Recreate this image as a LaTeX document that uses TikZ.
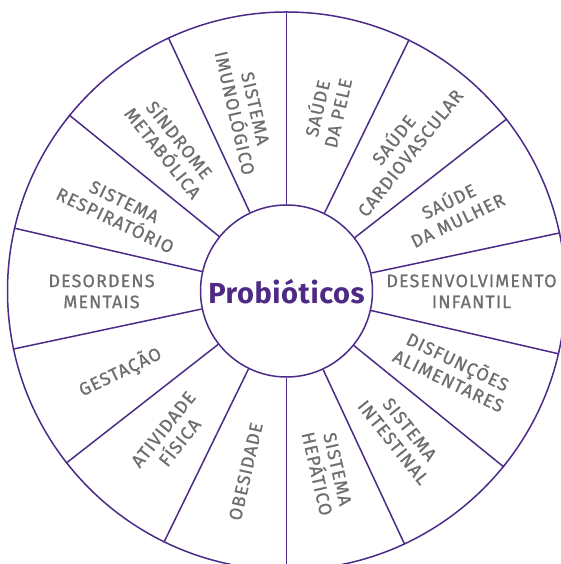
\documentclass[tikz,border=0pt]{standalone}
\usepackage{fontspec}
\setmainfont{Fira Sans}[LetterSpace=6,FakeBold=0.8]
\newfontfamily\corefont{Fira Sans}[LetterSpace=2]
\usetikzlibrary{calc}
\definecolor{wheelline}{HTML}{4B2A88}
\definecolor{labelgray}{HTML}{6E6E6E}
\definecolor{corepurple}{HTML}{4E2A84}
\newcommand\capline[1]{\raisebox{0pt}[13.3pt][0pt]{#1}}
\begin{document}
\begin{tikzpicture}[x=1pt,y=1pt,
  wheel/.style={circle, draw=wheelline, line width=1.5pt, inner sep=0pt, minimum size=#1},
  spoke/.style={draw=wheelline, line width=1.5pt},
  lbl/.style={text=labelgray, font=\fontsize{18}{21}\selectfont, align=center, inner sep=0pt, rotate=#1},
  title/.style={text=corepurple, font=\corefont\bfseries\fontsize{29}{32}\selectfont, inner sep=0pt, anchor=base}]
\useasboundingbox (0,0) rectangle (561,564);
\coordinate (C) at (286.5,273);
\node[wheel=558pt] (rim) at (C) {};
\node[wheel=172pt] (core) at (C) {};
\node[title] (probio) at ($(C)+(0,-13)$) {Probióticos};
\foreach \k in {0,...,13} {
  \pgfmathsetmacro\a{mod(90+\k*360/14,360)}
  \draw[spoke] (core.\a) -- (rim.\a);
}
\node[lbl=77.14] (pele) at ($(C)+(77.14:185)$) {\capline{SAÚDE}\\\capline{DA PELE}};
\node[lbl=51.43] (cardio) at ($(C)+(51.43:185)$) {\capline{SAÚDE}\\\capline{CARDIOVASCULAR}};
\node[lbl=25.71] (mulher) at ($(C)+(25.71:185)$) {\capline{SAÚDE}\\\capline{DA MULHER}};
\node[lbl=0] (infantil) at ($(C)+(0:185)$) {\capline{DESENVOLVIMENTO}\\\capline{INFANTIL}};
\node[lbl=-25.71] (alim) at ($(C)+(-25.71:185)$) {\capline{DISFUNÇÕES}\\\capline{ALIMENTARES}};
\node[lbl=-51.43] (intest) at ($(C)+(-51.43:185)$) {\capline{SISTEMA}\\\capline{INTESTINAL}};
\node[lbl=-77.14] (hepat) at ($(C)+(-77.14:185)$) {\capline{SISTEMA}\\\capline{HEPÁTICO}};
\node[lbl=77.14] (obes) at ($(C)+(-102.86:185)$) {\capline{OBESIDADE}};
\node[lbl=51.43] (ativ) at ($(C)+(-128.57:185)$) {\capline{ATIVIDADE}\\\capline{FÍSICA}};
\node[lbl=25.71] (gest) at ($(C)+(-154.29:185)$) {\capline{GESTAÇÃO}};
\node[lbl=0] (mentais) at ($(C)+(180:185)$) {\capline{DESORDENS}\\\capline{MENTAIS}};
\node[lbl=-25.71] (resp) at ($(C)+(154.29:185)$) {\capline{SISTEMA}\\\capline{RESPIRATÓRIO}};
\node[lbl=-51.43] (metab) at ($(C)+(128.57:185)$) {\capline{SÍNDROME}\\\capline{METABÓLICA}};
\node[lbl=-77.14] (imuno) at ($(C)+(102.86:185)$) {\capline{SISTEMA}\\\capline{IMUNOLÓGICO}};
\end{tikzpicture}
\end{document}
